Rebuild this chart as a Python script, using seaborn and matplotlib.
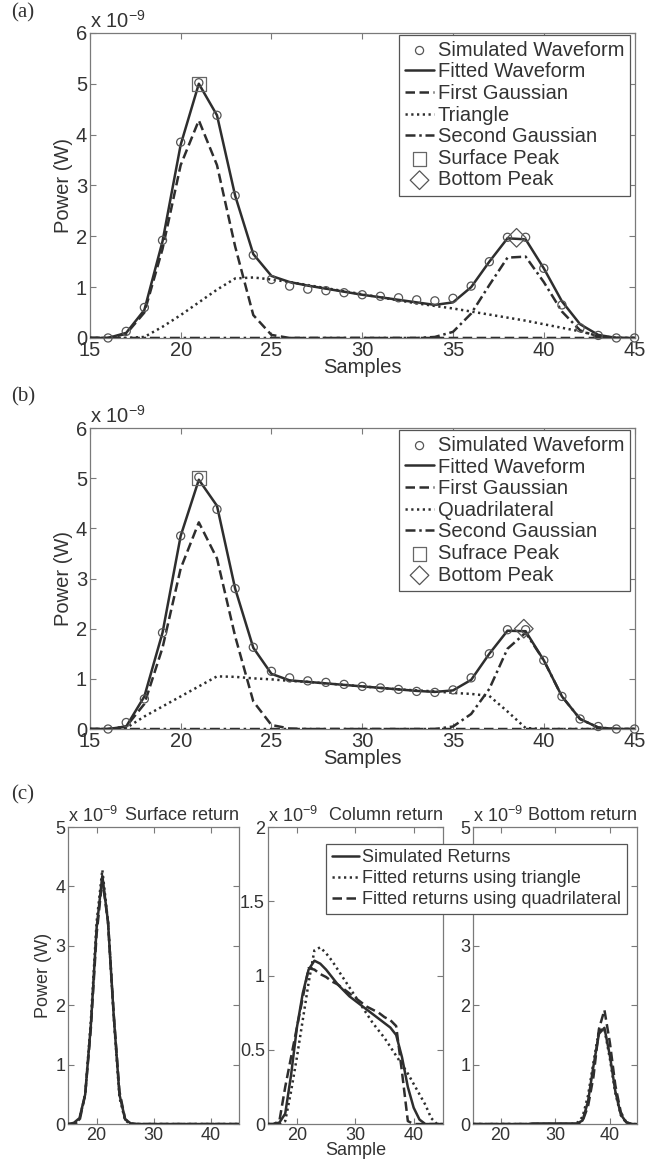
import numpy as np
import matplotlib
matplotlib.use("Agg")
import matplotlib.pyplot as plt
import seaborn as sns

# -------------------------------------------------------------
# DATA (power values in units of 1e-9 W)
# -------------------------------------------------------------
X_SIM = list(range(16, 46))
X_FIT = list(range(15, 46))

SIM_POWER = [0.00, 0.13, 0.60, 1.92, 3.85, 5.02, 4.38, 2.80, 1.63, 1.15,
             1.02, 0.96, 0.93, 0.89, 0.85, 0.82, 0.79, 0.75, 0.73, 0.78,
             1.02, 1.50, 1.98, 1.98, 1.37, 0.65, 0.20, 0.05, 0.00, 0.00]

# (a) triangle model
FIT_A = [0, 0, 0.10, 0.55, 1.90, 3.80, 5.00, 4.38, 2.80, 1.65, 1.22,
         1.10, 1.03, 0.97, 0.91, 0.85, 0.80, 0.75, 0.70, 0.65, 0.70,
         1.00, 1.50, 1.96, 1.94, 1.37, 0.72, 0.27, 0.06, 0, 0]
GAUSS1_A = [0, 0, 0.08, 0.50, 1.75, 3.40, 4.28, 3.40, 1.80, 0.45, 0.06,
            0, 0, 0, 0, 0, 0, 0, 0, 0, 0,
            0, 0, 0, 0, 0, 0, 0, 0, 0, 0]
TRI_A = [0, 0, 0, 0.02, 0.22, 0.45, 0.70, 0.95, 1.17, 1.19, 1.15,
         1.10, 1.04, 0.98, 0.92, 0.86, 0.80, 0.74, 0.68, 0.63, 0.58,
         0.52, 0.46, 0.40, 0.34, 0.27, 0.20, 0.13, 0.04, 0, 0]
GAUSS2_A = [0, 0, 0, 0, 0, 0, 0, 0, 0, 0, 0,
            0, 0, 0, 0, 0, 0, 0, 0, 0.02, 0.12,
            0.48, 1.04, 1.58, 1.60, 1.10, 0.52, 0.15, 0.02, 0, 0]
PEAKS_A = {"surface": (21, 5.00), "bottom": (38.5, 1.97)}

# (b) quadrilateral model
FIT_B = [0, 0, 0.05, 0.65, 1.92, 3.85, 4.97, 4.45, 2.80, 1.62, 1.10,
         0.97, 0.94, 0.91, 0.88, 0.85, 0.82, 0.79, 0.76, 0.74, 0.77,
         0.98, 1.50, 1.96, 1.95, 1.37, 0.65, 0.20, 0.03, 0, 0]
GAUSS1_B = [0, 0, 0.05, 0.50, 1.62, 3.20, 4.12, 3.40, 1.85, 0.55, 0.08,
            0.01, 0, 0, 0, 0, 0, 0, 0, 0, 0,
            0, 0, 0, 0, 0, 0, 0, 0, 0, 0]
QUAD_B = [0, 0, 0.02, 0.25, 0.45, 0.65, 0.85, 1.05, 1.04, 1.01, 0.99,
          0.96, 0.94, 0.91, 0.88, 0.85, 0.82, 0.79, 0.77, 0.75, 0.72,
          0.70, 0.66, 0.35, 0.02, 0, 0, 0, 0, 0, 0]
GAUSS2_B = [0, 0, 0, 0, 0, 0, 0, 0, 0, 0, 0,
            0, 0, 0, 0, 0, 0, 0, 0, 0, 0.05,
            0.30, 0.80, 1.60, 1.92, 1.37, 0.65, 0.20, 0.03, 0, 0]
PEAKS_B = {"surface": (21, 5.00), "bottom": (38.9, 2.00)}

# (c) simulated returns (fitted returns reuse the components above)
SURF_SIM = [0, 0.02, 0.10, 0.50, 1.68, 3.30, 4.18, 3.40, 1.82, 0.50, 0.08,
            0.01, 0, 0, 0, 0, 0, 0, 0, 0, 0,
            0, 0, 0, 0, 0, 0, 0, 0, 0, 0]
COL_SIM = [0, 0, 0.01, 0.07, 0.33, 0.65, 0.88, 1.04, 1.10, 1.08, 1.04,
           0.99, 0.94, 0.90, 0.86, 0.83, 0.80, 0.77, 0.74, 0.71, 0.68,
           0.65, 0.60, 0.45, 0.25, 0.11, 0.03, 0, 0, 0, 0]
BOT_SIM = [0, 0, 0, 0, 0, 0, 0, 0, 0, 0, 0,
           0.01, 0.01, 0.01, 0.01, 0.01, 0.01, 0.01, 0.01, 0.01, 0.06,
           0.38, 0.98, 1.52, 1.62, 1.15, 0.55, 0.16, 0.03, 0, 0]

# -------------------------------------------------------------
# STYLE
# -------------------------------------------------------------
sns.set_style("white")
plt.rcParams["font.family"] = ["Liberation Sans", "DejaVu Sans"]
plt.rcParams["mathtext.fontset"] = "custom"
plt.rcParams["mathtext.rm"] = "Liberation Sans"

LINE = "#2e2e2e"
MARK = "#555555"
TXT = "#333333"
SPINE = "#7a7a7a"
DASH = (0, (3.8, 1.8))
DOT = (0, (0.9, 1.4))
DASHDOT = (0, (4, 1.5, 1, 1.5))
LW = 1.8
FS_TOP = 14.5
FS_C = 13


def style_axes(ax, ylim, yticks, xticks, fs):
    ax.set_xlim(15, 45)
    ax.set_ylim(*ylim)
    ax.set_xticks(xticks)
    ax.set_yticks(yticks)
    ax.set_yticklabels([f"{t:g}" for t in yticks])
    ax.tick_params(which="both", direction="in", top=True, right=True,
                   bottom=True, left=True, length=4, width=0.8, color=SPINE,
                   labelsize=fs, labelcolor=TXT, pad=2)
    for s in ax.spines.values():
        s.set_visible(True)
        s.set_color(SPINE)
        s.set_linewidth(0.9)
    ax.grid(False)
    ax.text(0.0, 1.004, r"x 10$^{-9}$", transform=ax.transAxes, ha="left",
            va="bottom", fontsize=fs, color=TXT)


def line(ax, y, ls, label):
    sns.lineplot(x=X_FIT, y=y, ax=ax, color=LINE, lw=LW, linestyle=ls,
                 errorbar=None, legend=False, label=label, zorder=3)
    return ax.lines[-1]


def full_panel(ax, fit, g1, mid, g2, mid_label, peaks, surf_label):
    h = {}
    sns.scatterplot(x=X_SIM, y=SIM_POWER, ax=ax, marker="o", s=34,
                    facecolor="none", edgecolor=MARK, linewidth=0.9,
                    legend=False, zorder=4, clip_on=False)
    h["Simulated Waveform"] = ax.collections[-1]
    h["Fitted Waveform"] = line(ax, fit, "-", "Fitted Waveform")
    h["First Gaussian"] = line(ax, g1, DASH, "First Gaussian")
    h[mid_label] = line(ax, mid, DOT, mid_label)
    h["Second Gaussian"] = line(ax, g2, DASHDOT, "Second Gaussian")
    sx, sy = peaks["surface"]
    sns.scatterplot(x=[sx], y=[sy], ax=ax, marker="s", s=100,
                    facecolor="none", edgecolor="#666666", linewidth=0.9,
                    legend=False, zorder=5)
    h[surf_label] = ax.collections[-1]
    bx, by = peaks["bottom"]
    sns.scatterplot(x=[bx], y=[by], ax=ax, marker="D", s=90,
                    facecolor="none", edgecolor=MARK, linewidth=0.9,
                    legend=False, zorder=5)
    h["Bottom Peak"] = ax.collections[-1]

    order = ["Simulated Waveform", "Fitted Waveform", "First Gaussian",
             mid_label, "Second Gaussian", surf_label, "Bottom Peak"]
    leg = ax.legend([h[k] for k in order], order, loc="upper right",
                    bbox_to_anchor=(0.992, 0.994), borderaxespad=0,
                    fontsize=FS_TOP, frameon=True, fancybox=False,
                    edgecolor="#555555", framealpha=1, labelspacing=0.13,
                    handlelength=1.4, handletextpad=0.2, borderpad=0.3)
    leg.get_frame().set_linewidth(0.9)
    for t in leg.get_texts():
        t.set_color(TXT)

    style_axes(ax, (0, 6), [0, 1, 2, 3, 4, 5, 6], [15, 20, 25, 30, 35, 40, 45], FS_TOP)
    ax.set_xlabel("Samples", fontsize=FS_TOP, color=TXT, labelpad=-1)
    ax.set_ylabel("Power (W)", fontsize=FS_TOP, color=TXT, labelpad=2)


fig = plt.figure(figsize=(6.61, 11.67), dpi=100)

ax_a = fig.add_axes([0.136, 0.7104, 0.824, 0.2614])
full_panel(ax_a, FIT_A, GAUSS1_A, TRI_A, GAUSS2_A, "Triangle", PEAKS_A, "Surface Peak")

ax_b = fig.add_axes([0.136, 0.3753, 0.824, 0.2579])
full_panel(ax_b, FIT_B, GAUSS1_B, QUAD_B, GAUSS2_B, "Quadrilateral", PEAKS_B, "Sufrace Peak")

# (c) separated returns
c_bottom, c_height = 0.0368, 0.2545
ax_c1 = fig.add_axes([0.103, c_bottom, 0.259, c_height])
ax_c2 = fig.add_axes([0.405, c_bottom, 0.265, c_height])
ax_c3 = fig.add_axes([0.716, c_bottom, 0.248, c_height])

panels_c = [
    (ax_c1, SURF_SIM, GAUSS1_A, GAUSS1_B, "Surface return", (0, 5), [0, 1, 2, 3, 4, 5]),
    (ax_c2, COL_SIM, TRI_A, QUAD_B, "Column return", (0, 2), [0, 0.5, 1, 1.5, 2]),
    (ax_c3, BOT_SIM, GAUSS2_A, GAUSS2_B, "Bottom return", (0, 5), [0, 1, 2, 3, 4, 5]),
]
for ax, sim, tri, quad, title, ylim, yticks in panels_c:
    line(ax, sim, "-", "Simulated Returns")
    line(ax, tri, DOT, "Fitted returns using triangle")
    line(ax, quad, DASH, "Fitted returns using quadrilateral")
    style_axes(ax, ylim, yticks, [20, 30, 40], FS_C)
    ax.text(1.0, 1.01, title, transform=ax.transAxes, ha="right", va="bottom",
            fontsize=FS_C, color=TXT)

ax_c1.set_ylabel("Power (W)", fontsize=FS_C, color=TXT, labelpad=2)
ax_c2.set_xlabel("Sample", fontsize=FS_C, color=TXT, labelpad=-1)

leg_c = fig.legend(ax_c2.lines[:3], [l.get_label() for l in ax_c2.lines[:3]],
                   loc="upper right", bbox_to_anchor=(0.962, 0.2845),
                   bbox_transform=fig.transFigure, fontsize=FS_C, frameon=True,
                   fancybox=False, edgecolor="#555555", framealpha=1,
                   labelspacing=0.22, handlelength=1.5, handletextpad=0.2,
                   borderpad=0.3)
leg_c.get_frame().set_linewidth(0.9)
for t in leg_c.get_texts():
    t.set_color(TXT)

# panel letters
for label, ypos in [("(a)", 1 - 13 / 1167), ("(b)", 1 - 397 / 1167), ("(c)", 1 - 795 / 1167)]:
    fig.text(0.017, ypos, label, fontsize=15, family="Liberation Serif",
             color=TXT, ha="left", va="center")

fig.savefig("out.png", dpi=100)
